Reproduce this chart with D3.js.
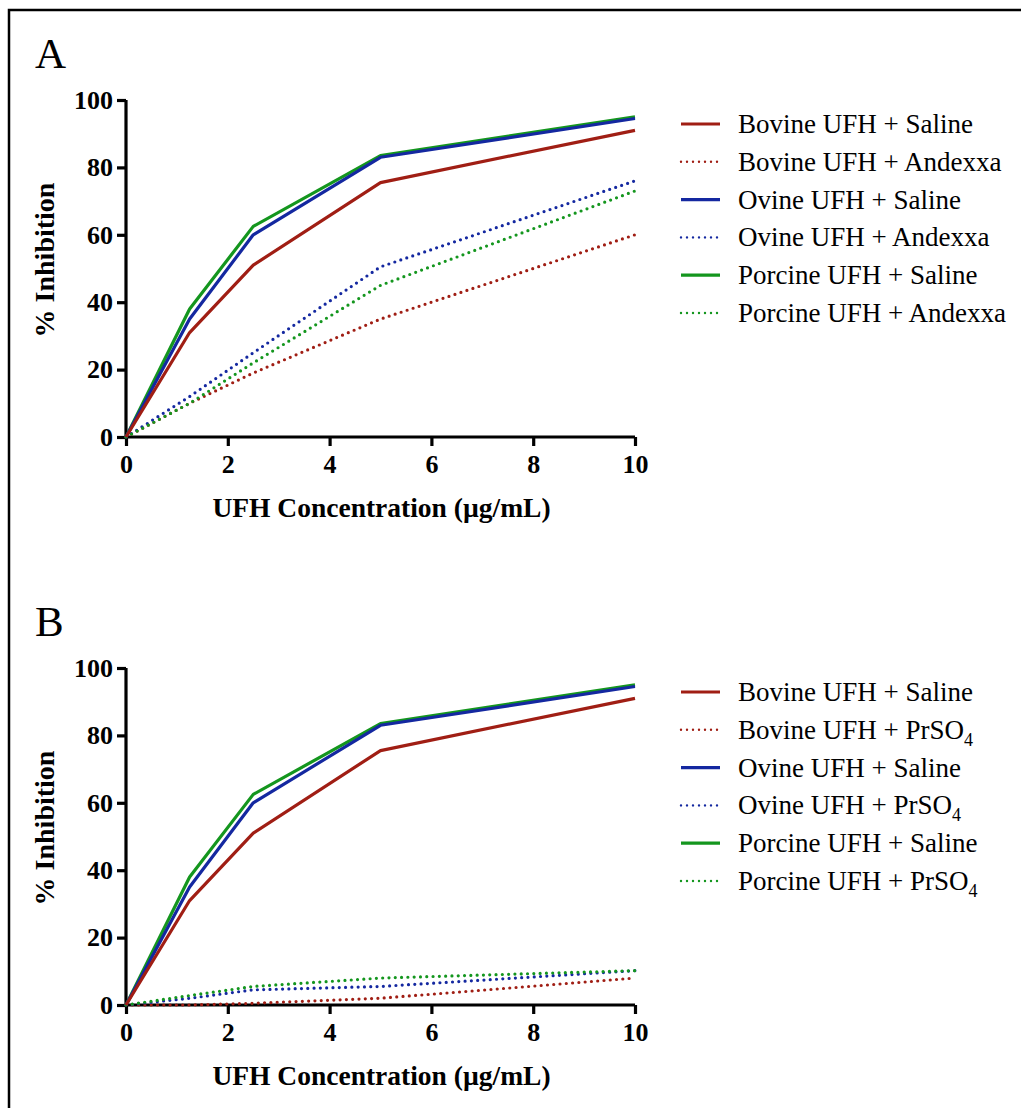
<!DOCTYPE html>
<html>
<head>
<meta charset="utf-8">
<script src="https://cdn.jsdelivr.net/npm/d3@7"></script>
<style>
  body { margin: 0; background: #fff; }
  svg text { font-family: "Liberation Serif", "Times New Roman", serif; }
</style>
</head>
<body>
<div id="chart"></div>
<script>
// Datos
var concentraciones = [0, 1.25, 2.5, 5, 10];
var ticksX = [0, 2, 4, 6, 8, 10];
var ticksY = [0, 20, 40, 60, 80, 100];

var bovinoSalino = [0, 31, 51, 75.5, 91];
var ovinoSalino = [0, 35, 60, 83, 94.5];
var porcinoSalino = [0, 38, 62.5, 83.5, 95];

var bovinoAndexxa = [0, 10, 19, 35, 60];
var ovinoAndexxa = [0, 12, 25, 50.5, 76];
var porcinoAndexxa = [0, 10, 22, 45, 73];

var bovinoPrSO4 = [0, 0, 0.5, 2, 8];
var ovinoPrSO4 = [0, 2, 4.5, 5.5, 10.2];
var porcinoPrSO4 = [0, 2.8, 5.5, 8, 10.2];

var nombresA = ["Bovine UFH + Saline", "Bovine UFH + Andexxa", "Ovine UFH + Saline",
                "Ovine UFH + Andexxa", "Porcine UFH + Saline", "Porcine UFH + Andexxa"];
var nombresB = ["Bovine UFH + Saline", "Bovine UFH + PrSO", "Ovine UFH + Saline",
                "Ovine UFH + PrSO", "Porcine UFH + Saline", "Porcine UFH + PrSO"];

// Colores
var colorBovino = "#a01e14";
var colorOvino = "#1428a0";
var colorPorcino = "#14961e";

var svg = d3.select("#chart").append("svg")
  .attr("width", 1021)
  .attr("height", 1108);

// Marco
svg.append("path")
  .attr("d", "M9,1108 V10 H1021")
  .attr("fill", "none")
  .attr("stroke", "#000")
  .attr("stroke-width", 2.5);

var x = d3.scaleLinear().domain([0, 10]).range([126, 635]);

function dibujarPanel(letra, top, series, nombres, subindice) {
  var y = d3.scaleLinear().domain([0, 100]).range([top + 337, top]);
  var g = svg.append("g");

  g.append("text")
    .attr("x", 35).attr("y", top - 32)
    .attr("font-size", 43)
    .text(letra);

  // Ejes
  var ejeX = g.append("g")
    .attr("transform", "translate(0," + y(0) + ")")
    .call(d3.axisBottom(x).tickValues(ticksX).tickSize(9).tickPadding(5).tickFormat(d3.format("d")));
  var ejeY = g.append("g")
    .attr("transform", "translate(" + x(0) + ",0)")
    .call(d3.axisLeft(y).tickValues(ticksY).tickSize(9).tickPadding(4).tickFormat(d3.format("d")));

  [ejeX, ejeY].forEach(function(eje) {
    eje.select(".domain").attr("stroke-width", 3.2)
      .attr("d", eje === ejeX ? "M" + x(0) + ",0H" + x(10) : "M0," + y(0) + "V" + y(100));
    eje.selectAll(".tick line").attr("stroke-width", 3.2);
    eje.selectAll(".tick text")
      .attr("font-weight", "bold")
      .attr("font-size", 26)
      .attr("fill", "#000");
  });
  ejeX.selectAll(".tick text").attr("dy", "0.85em");

  g.append("text")
    .attr("x", (x(0) + x(10)) / 2 + 1).attr("y", top + 417)
    .attr("text-anchor", "middle")
    .attr("font-weight", "bold")
    .attr("font-size", 27.5)
    .text("UFH Concentration (\u00b5g/mL)");

  g.append("text")
    .attr("transform", "translate(54," + (top + 160) + ") rotate(-90)")
    .attr("text-anchor", "middle")
    .attr("font-weight", "bold")
    .attr("font-size", 28)
    .text("% Inhibition");

  var linea = d3.line()
    .x(function(d, i) { return x(concentraciones[i]); })
    .y(function(d) { return y(d); });

  // Primero punteadas, luego solidas encima
  var orden = [1, 3, 5, 4, 2, 0];
  orden.forEach(function(k) {
    var s = series[k];
    var p = g.append("path")
      .datum(s.valores)
      .attr("fill", "none")
      .attr("stroke", s.color)
      .attr("d", linea);
    if (s.punteada) {
      p.attr("stroke-width", 3.2)
        .attr("stroke-dasharray", "0,6.3")
        .attr("stroke-linecap", "round");
    } else {
      p.attr("stroke-width", 3.2)
        .attr("stroke-linejoin", "round");
    }
  });

  // Leyenda
  var leyenda = g.append("g");
  series.forEach(function(s, i) {
    var yy = top + 24 + i * 37.8;
    leyenda.append("line")
      .attr("x1", 681).attr("x2", 720)
      .attr("y1", yy).attr("y2", yy)
      .attr("stroke", s.color)
      .attr("stroke-width", s.punteada ? 2.4 : 3.2)
      .attr("stroke-dasharray", s.punteada ? "0,6" : null)
      .attr("stroke-linecap", s.punteada ? "round" : "butt");
    var t = leyenda.append("text")
      .attr("x", 738).attr("y", yy + 9)
      .attr("font-size", 27)
      .text(nombres[i]);
    if (subindice && s.punteada) {
      t.append("tspan")
        .attr("font-size", 18)
        .attr("dy", 7)
        .text("4");
    }
  });
}

dibujarPanel("A", 100, [
  { valores: bovinoSalino, color: colorBovino, punteada: false },
  { valores: bovinoAndexxa, color: colorBovino, punteada: true },
  { valores: ovinoSalino, color: colorOvino, punteada: false },
  { valores: ovinoAndexxa, color: colorOvino, punteada: true },
  { valores: porcinoSalino, color: colorPorcino, punteada: false },
  { valores: porcinoAndexxa, color: colorPorcino, punteada: true }
], nombresA, false);

dibujarPanel("B", 668, [
  { valores: bovinoSalino, color: colorBovino, punteada: false },
  { valores: bovinoPrSO4, color: colorBovino, punteada: true },
  { valores: ovinoSalino, color: colorOvino, punteada: false },
  { valores: ovinoPrSO4, color: colorOvino, punteada: true },
  { valores: porcinoSalino, color: colorPorcino, punteada: false },
  { valores: porcinoPrSO4, color: colorPorcino, punteada: true }
], nombresB, true);
</script>
</body>
</html>
